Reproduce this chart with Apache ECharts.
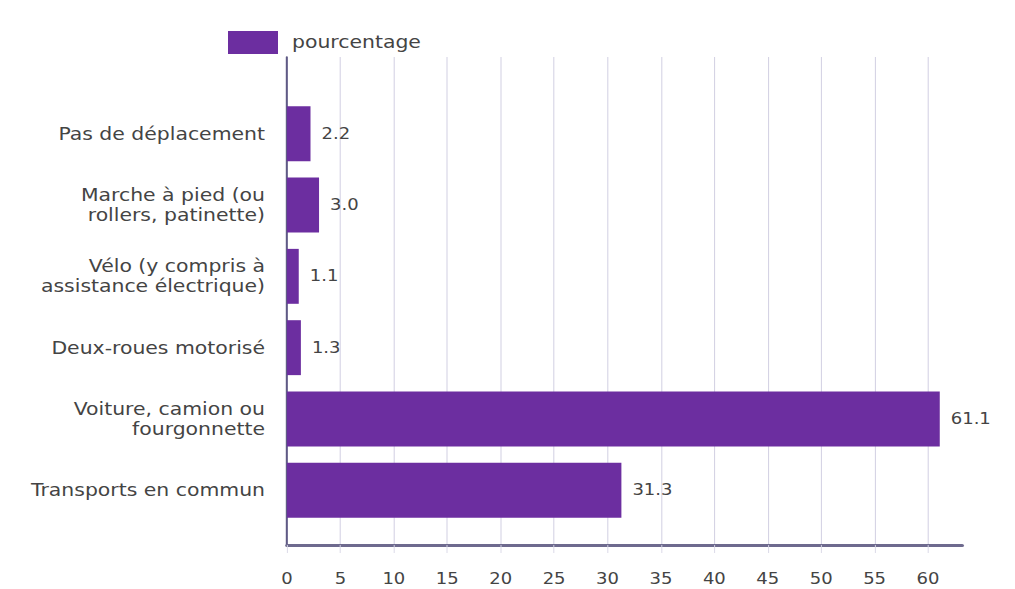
<!DOCTYPE html>
<html>
<head>
<meta charset="utf-8">
<script src="https://cdn.jsdelivr.net/npm/echarts@6/dist/echarts.min.js"></script>
<style>
html,body{margin:0;padding:0;background:#fff;overflow:hidden}
#wrap{width:1015px;height:589px;overflow:hidden}
#c{width:845.83px;height:589px;transform:scaleX(1.2);transform-origin:0 0}
</style>
</head>
<body>
<div id="wrap"><div id="c"></div></div>
<script>
const categories = [
  'Pas de déplacement',
  'Marche à pied (ou\nrollers, patinette)',
  'Vélo (y compris à\nassistance électrique)',
  'Deux-roues motorisé',
  'Voiture, camion ou\nfourgonnette',
  'Transports en commun'
];
const values = [2.2, 3.0, 1.1, 1.3, 61.1, 31.3];
const seriesName = 'pourcentage';
const xMin = 0, xMax = 63.2, xStep = 5;

const S = 1.2; // horizontal stretch of the reference typography
const FONT = 'DejaVu Sans';
const TXT = '#444';
const chart = echarts.init(document.getElementById('c'), null, {renderer: 'svg'});
chart.setOption({
  animation: false,
  textStyle: {fontFamily: FONT},
  legend: {
    data: [seriesName], left: 222 / S, top: 26, itemWidth: 50 / S, itemHeight: 23,
    icon: 'rect',
    textStyle: {fontSize: 17, color: TXT, fontFamily: FONT, padding: [0, 0, 0, 8 / S]}
  },
  grid: [
    {left: 287 / S, right: 53 / S, top: 57, bottom: 44},
    {left: 287 / S, right: 53 / S, top: 98, bottom: 63}
  ],
  xAxis: [
    {
      type: 'value', gridIndex: 0, min: xMin, max: xMax, interval: xStep,
      axisLine: {show: true, lineStyle: {color: '#6e6a8e', width: 3}},
      axisTick: {show: true, length: 8, lineStyle: {color: '#d8d6e6', width: 1 / S}},
      splitLine: {show: true, showMaxLine: false, lineStyle: {color: '#cdcbdf', width: 1 / S}},
      axisLabel: {fontSize: 15, color: TXT, margin: 27, fontFamily: FONT, showMaxLabel: false}
    },
    {type: 'value', gridIndex: 1, min: xMin, max: xMax, show: false}
  ],
  yAxis: [
    {
      type: 'value', gridIndex: 0,
      axisLine: {show: true, lineStyle: {color: '#5f5a85', width: 2 / S}},
      axisTick: {show: false}, axisLabel: {show: false}, splitLine: {show: false}
    },
    {
      type: 'category', gridIndex: 1, data: categories, inverse: true,
      axisLine: {show: false}, axisTick: {show: false}, splitLine: {show: false},
      axisLabel: {fontSize: 17, lineHeight: 20, color: TXT, margin: 22 / S, fontFamily: FONT, align: 'right'}
    }
  ],
  series: [{
    name: seriesName, type: 'bar', xAxisIndex: 1, yAxisIndex: 1,
    data: values, barWidth: '77%',
    itemStyle: {color: '#6c2ea0'},
    label: {
      show: true, position: 'right', distance: 11 / S, color: TXT, fontSize: 15, fontFamily: FONT,
      formatter: p => p.value.toFixed(1)
    }
  }]
});
</script>
</body>
</html>
